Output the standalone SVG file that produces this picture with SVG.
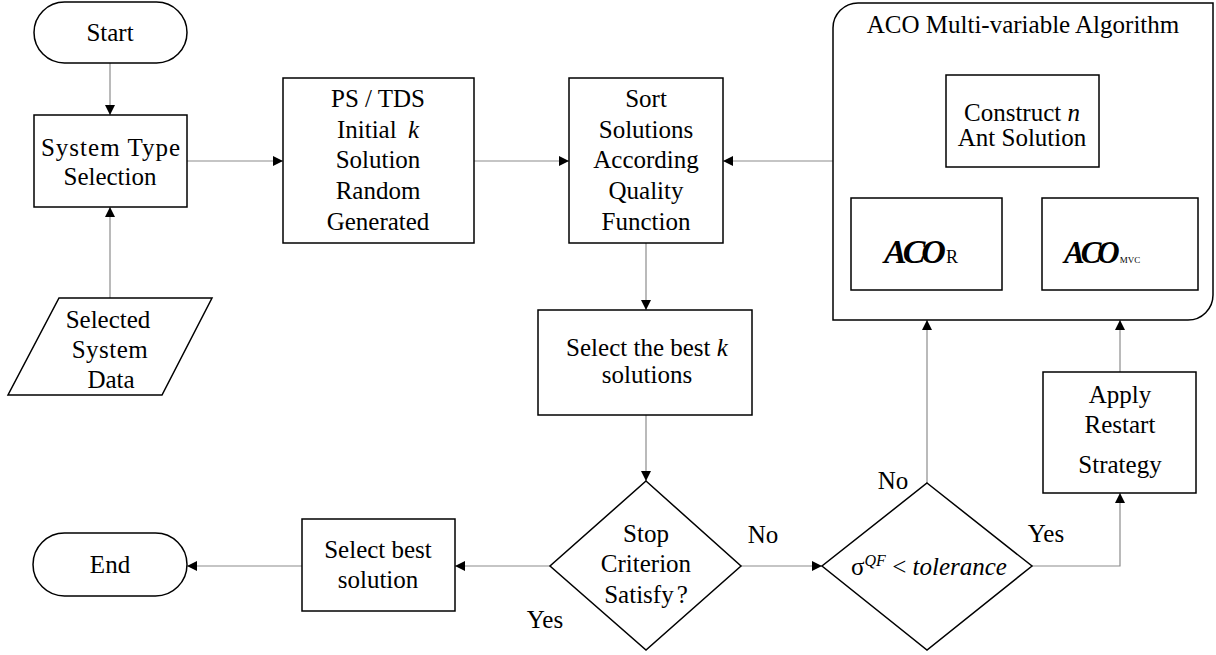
<svg xmlns="http://www.w3.org/2000/svg" width="1216" height="655" viewBox="0 0 1216 655" font-family="Liberation Serif" font-size="25">
<style>
.shape{fill:#fff;stroke:#000;stroke-width:1.5}
.conn{fill:none;stroke:#8c8c8c;stroke-width:1.2}
.c{text-anchor:middle}
.i{font-style:italic}
.aco{font-weight:bold;font-style:italic}
</style>
<defs>
<marker id="arr" viewBox="0 0 10 10" refX="10" refY="5" markerWidth="10" markerHeight="10" markerUnits="userSpaceOnUse" orient="auto">
<path d="M0,0 L10,5 L0,10 Z" fill="#000"/>
</marker>
</defs>
<rect width="1216" height="655" fill="#fff"/>

<g id="connectors" font-family="Liberation Serif">
<path class="conn" d="M110,63 V115" marker-end="url(#arr)"/>
<path class="conn" d="M110,298 V207" marker-end="url(#arr)"/>
<path class="conn" d="M187,161 H283" marker-end="url(#arr)"/>
<path class="conn" d="M474,161 H569" marker-end="url(#arr)"/>
<path class="conn" d="M833,161 H723" marker-end="url(#arr)"/>
<path class="conn" d="M646,243 V310" marker-end="url(#arr)"/>
<path class="conn" d="M646,415 V481" marker-end="url(#arr)"/>
<path class="conn" d="M550,566 H455" marker-end="url(#arr)"/>
<path class="conn" d="M302,566 H187" marker-end="url(#arr)"/>
<path class="conn" d="M741,566 H822" marker-end="url(#arr)"/>
<path class="conn" d="M927,483 V320" marker-end="url(#arr)"/>
<path class="conn" d="M1032,566 H1120 V493" marker-end="url(#arr)"/>
<path class="conn" d="M1120,372 V320" marker-end="url(#arr)"/>
<path class="conn" d="M1022,167 V181 M927,181 H1119"/>
<path class="conn" d="M927,181 V198" marker-end="url(#arr)"/>
<path class="conn" d="M1119,181 V198" marker-end="url(#arr)"/>
<text x="763" y="543" class="c">No</text>
<text x="893" y="489" class="c">No</text>
<text x="1046" y="542" class="c">Yes</text>
<text x="545" y="628" class="c">Yes</text>
</g>

<g id="start" font-family="Liberation Serif">
<rect class="shape" x="34" y="2" width="153" height="61" rx="30.5"/>
<text x="110" y="41" class="c">Start</text>
</g>

<g id="system-type" font-family="Liberation Serif">
<rect class="shape" x="34" y="115" width="153" height="92"/>
<text x="111" y="156" class="c" letter-spacing="1">System Type</text>
<text x="110" y="185" class="c">Selection</text>
</g>

<g id="system-data" font-family="Liberation Serif">
<path class="shape" d="M59,298 H212 L162,395 H8 Z"/>
<text x="108" y="328" class="c">Selected</text>
<text x="110" y="358" class="c" letter-spacing="0.5">System</text>
<text x="111" y="388" class="c">Data</text>
</g>

<g id="ps-tds" font-family="Liberation Serif">
<rect class="shape" x="283" y="78" width="191" height="165"/>
<text x="378" y="107" class="c">PS / TDS</text>
<text x="378" y="138" class="c">Initial <tspan class="i" dx="5">k</tspan></text>
<text x="378" y="168" class="c">Solution</text>
<text x="378" y="199" class="c">Random</text>
<text x="378" y="230" class="c">Generated</text>
</g>

<g id="sort" font-family="Liberation Serif">
<rect class="shape" x="569" y="78" width="154" height="165"/>
<text x="646" y="107" class="c">Sort</text>
<text x="646" y="138" class="c">Solutions</text>
<text x="646" y="168" class="c">According</text>
<text x="646" y="199" class="c">Quality</text>
<text x="646" y="230" class="c">Function</text>
</g>

<g id="select-k" font-family="Liberation Serif">
<rect class="shape" x="538" y="310" width="214" height="105"/>
<text x="647" y="356" class="c">Select the best <tspan class="i">k</tspan></text>
<text x="647" y="383" class="c">solutions</text>
</g>

<g id="stop" font-family="Liberation Serif">
<path class="shape" d="M646,481 L741,566 L646,650 L550,566 Z"/>
<text x="646" y="542" class="c">Stop</text>
<text x="646" y="572" class="c">Criterion</text>
<text x="646" y="603" class="c">Satisfy<tspan dx="3">?</tspan></text>
</g>

<g id="tolerance" font-family="Liberation Serif">
<path class="shape" d="M927,483 L1032,566 L927,650 L822,566 Z"/>
<text x="929" y="575" class="c">σ<tspan class="i" font-size="16" dy="-9">QF</tspan><tspan dy="9"> &lt; </tspan><tspan class="i">tolerance</tspan></text>
</g>

<g id="select-best" font-family="Liberation Serif">
<rect class="shape" x="302" y="519" width="153" height="92"/>
<text x="378" y="558" class="c">Select best</text>
<text x="378" y="588" class="c">solution</text>
</g>

<g id="end" font-family="Liberation Serif">
<rect class="shape" x="33" y="533" width="154" height="63" rx="31.5"/>
<text x="110" y="573" class="c">End</text>
</g>

<g id="restart" font-family="Liberation Serif">
<rect class="shape" x="1043" y="372" width="153" height="121"/>
<text x="1120" y="403" class="c">Apply</text>
<text x="1120" y="433" class="c">Restart</text>
<text x="1120" y="473" class="c">Strategy</text>
</g>

<g id="aco" font-family="Liberation Serif">
<path class="shape" d="M858,3 H1213 V295 A25,25 0 0 1 1188,320 H833 V28 A25,25 0 0 1 858,3 Z"/>
<text x="1023" y="33" class="c">ACO Multi-variable Algorithm</text>
</g>

<g id="construct" font-family="Liberation Serif">
<rect class="shape" x="946" y="75" width="153" height="92"/>
<text x="1022" y="121" class="c">Construct <tspan class="i">n</tspan></text>
<text x="1022" y="146" class="c">Ant Solution</text>
</g>

<g id="aco-r" font-family="Liberation Serif">
<rect class="shape" x="851" y="198" width="151" height="92"/>
<text x="884" y="263"><tspan class="aco" font-size="34" letter-spacing="-4">ACO</tspan><tspan font-size="18" dx="4">R</tspan></text>
</g>

<g id="aco-mvc" font-family="Liberation Serif">
<rect class="shape" x="1042" y="198" width="156" height="92"/>
<text x="1064" y="263"><tspan class="aco" font-size="31" letter-spacing="-4">ACO</tspan><tspan font-size="9" dx="4">MVC</tspan></text>
</g>
</svg>
